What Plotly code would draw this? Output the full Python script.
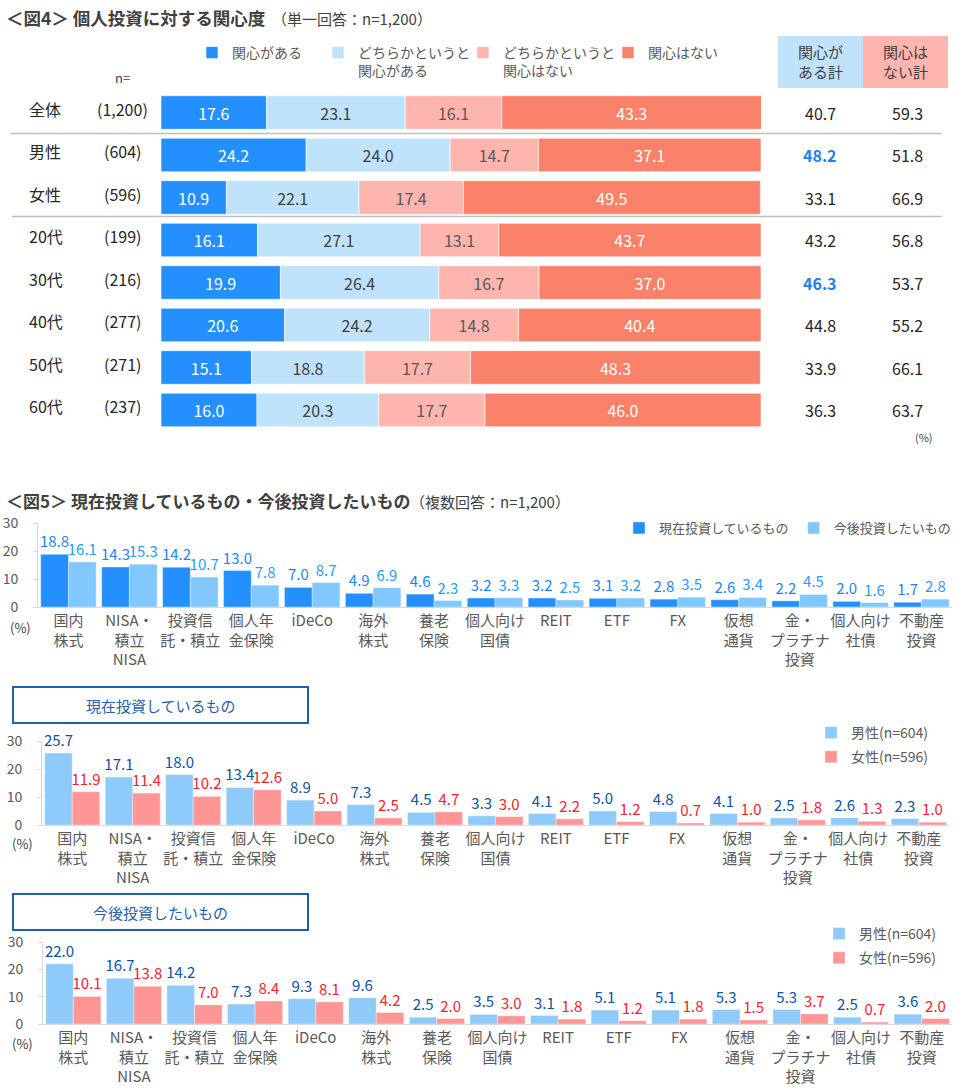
import plotly.graph_objects as go

W, H = 960, 1089
def px(x): return x / W
def py(y): return 1 - y / H

FONT = "Noto Sans CJK JP"

# ---------------- Figure 4 data ----------------
groups = ["全体", "男性", "女性", "20代", "30代", "40代", "50代", "60代"]
n_labels = ["(1,200)", "(604)", "(596)", "(199)", "(216)", "(277)", "(271)", "(237)"]
seg_names = ["関心がある", "どちらかというと<br>関心がある", "どちらかというと<br>関心はない", "関心はない"]
seg1 = [17.6, 24.2, 10.9, 16.1, 19.9, 20.6, 15.1, 16.0]
seg2 = [23.1, 24.0, 22.1, 27.1, 26.4, 24.2, 18.8, 20.3]
seg3 = [16.1, 14.7, 17.4, 13.1, 16.7, 14.8, 17.7, 17.7]
seg4 = [43.3, 37.1, 49.5, 43.7, 37.0, 40.4, 48.3, 46.0]
total_yes = [40.7, 48.2, 33.1, 43.2, 46.3, 44.8, 33.9, 36.3]
total_no = [59.3, 51.8, 66.9, 56.8, 53.7, 55.2, 66.1, 63.7]
highlight_yes = [False, True, False, False, True, False, False, False]

seg_colors = ["#2490FF", "#BEE3FB", "#FDB5AE", "#FA816A"]
seg_text_colors = ["white", "#404040", "#595959", "white"]

# ---------------- Figure 5 data ----------------
cats = ["国内株式", "NISA・積立NISA", "投資信託・積立", "個人年金保険", "iDeCo", "海外株式",
        "養老保険", "個人向け国債", "REIT", "ETF", "FX", "仮想通貨", "金・プラチナ投資",
        "個人向け社債", "不動産投資"]
cat_ticks = ["国内<br>株式", "NISA・<br>積立<br>NISA", "投資信<br>託・積立", "個人年<br>金保険", "iDeCo",
             "海外<br>株式", "養老<br>保険", "個人向け<br>国債", "REIT", "ETF", "FX", "仮想<br>通貨",
             "金・<br>プラチナ<br>投資", "個人向け<br>社債", "不動産<br>投資"]
now_all = [18.8, 14.3, 14.2, 13.0, 7.0, 4.9, 4.6, 3.2, 3.2, 3.1, 2.8, 2.6, 2.2, 2.0, 1.7]
future_all = [16.1, 15.3, 10.7, 7.8, 8.7, 6.9, 2.3, 3.3, 2.5, 3.2, 3.5, 3.4, 4.5, 1.6, 2.8]
now_male = [25.7, 17.1, 18.0, 13.4, 8.9, 7.3, 4.5, 3.3, 4.1, 5.0, 4.8, 4.1, 2.5, 2.6, 2.3]
now_female = [11.9, 11.4, 10.2, 12.6, 5.0, 2.5, 4.7, 3.0, 2.2, 1.2, 0.7, 1.0, 1.8, 1.3, 1.0]
fut_male = [22.0, 16.7, 14.2, 7.3, 9.3, 9.6, 2.5, 3.5, 3.1, 5.1, 5.1, 5.3, 5.3, 2.5, 3.6]
fut_female = [10.1, 13.8, 7.0, 8.4, 8.1, 4.2, 2.0, 3.0, 1.8, 1.2, 1.8, 1.5, 3.7, 0.7, 2.0]

fig = go.Figure()

# ---- Figure 4 stacked horizontal bars (explicit base) ----
seg_legends = ["legend", "legend5", "legend6", "legend7"]
segs = [seg1, seg2, seg3, seg4]
base = [0.0] * len(groups)
for i, s in enumerate(segs):
    fig.add_trace(go.Bar(
        x=s, y=groups, base=list(base), orientation="h", name=seg_names[i],
        marker=dict(color=seg_colors[i], line=dict(color="rgba(255,255,255,0.6)", width=1)),
        text=[f"{v:.1f}" for v in s], textposition="inside", insidetextanchor="middle",
        textangle=0, constraintext="none",
        textfont=dict(color=seg_text_colors[i], size=16, family=FONT),
        width=0.79, offset=-0.395, xaxis="x", yaxis="y", legend=seg_legends[i],
        hoverinfo="skip"))
    base = [b + v for b, v in zip(base, s)]

# ---- Figure 5 charts ----
def add_pair(a, b, names, colors, tcolors, ax, leg):
    for k, (vals, nm, c, tc) in enumerate(zip([a, b], names, colors, tcolors)):
        fig.add_trace(go.Bar(
            x=cats, y=vals, name=nm, legendgroup=f"{leg}_{k}",
            marker=dict(color=c, line=dict(color="rgba(255,255,255,0.35)", width=1)),
            text=[f"{v:.1f}" for v in vals], textposition="outside", constraintext="none",
            cliponaxis=False, textfont=dict(color=tc, size=15, family=FONT),
            xaxis="x" + ax, yaxis="y" + ax, legend=leg, hoverinfo="skip"))

add_pair(now_all, future_all, ["現在投資しているもの", "今後投資したいもの"],
         ["#2490FF", "#80C8FF"], ["#1E84F0", "#2B9BFA"], "2", "legend2")
add_pair(now_male, now_female, ["男性(n=604)", "女性(n=596)"],
         ["#8FCBFA", "#FF9696"], ["#0B52A8", "#F5222D"], "3", "legend3")
add_pair(fut_male, fut_female, ["男性(n=604)", "女性(n=596)"],
         ["#8FCBFA", "#FF9696"], ["#0B52A8", "#F5222D"], "4", "legend4")

axis_font = dict(family=FONT, size=15, color="#595959")
ytick_font = dict(family=FONT, size=14, color="#595959")

def ydom(top, bottom):
    return [py(bottom), py(top)]

layout = dict(
    width=W, height=H, autosize=False,
    margin=dict(l=0, r=0, t=0, b=0, pad=0, autoexpand=False),
    paper_bgcolor="white", plot_bgcolor="white",
    font=dict(family=FONT, color="#404040"),
    barmode="group", bargap=0.09, bargroupgap=0,
    showlegend=True,
    xaxis=dict(domain=[px(161), px(761)], range=[0, 100], visible=False, fixedrange=True,
               automargin=False),
    yaxis=dict(domain=ydom(91.25, 431.25), type="category", categoryorder="array",
               categoryarray=groups, autorange="reversed", visible=False, automargin=False),
)

def chart_axes(xd, yd):
    xa = dict(domain=xd, type="category", categoryorder="array", categoryarray=cats,
              tickvals=cats, ticktext=cat_ticks, tickfont=axis_font, showline=True,
              linecolor="#D9D9D9", linewidth=1, ticks="", showgrid=False, zeroline=False,
              tickangle=0, automargin=False)
    ya = dict(domain=yd, range=[0, 30], tickvals=[0, 10, 20, 30], tickfont=ytick_font,
              showline=True, linecolor="#D9D9D9", linewidth=1, ticks="outside", ticklen=4,
              tickcolor="#D9D9D9", showgrid=False, zeroline=False, ticklabelstandoff=12,
              automargin=False)
    return xa, ya

xa, ya = chart_axes([px(38), px(952)], ydom(523, 607))
xa["anchor"] = "y2"; ya["anchor"] = "x2"
layout["xaxis2"], layout["yaxis2"] = xa, ya
xa, ya = chart_axes([px(42), px(949)], ydom(741, 825))
xa["anchor"] = "y3"; ya["anchor"] = "x3"
layout["xaxis3"], layout["yaxis3"] = xa, ya
xa, ya = chart_axes([px(43), px(952)], ydom(942, 1024))
xa["anchor"] = "y4"; ya["anchor"] = "x4"
layout["xaxis4"], layout["yaxis4"] = xa, ya

leg_font = dict(family=FONT, size=14, color="#595959")
leg_font13 = dict(family=FONT, size=13, color="#595959")

# Figure 4 legend: one legend per item, placed at the reference positions
for lg, cx in zip(seg_legends, [192, 318, 463, 608]):
    layout[lg] = dict(orientation="h", x=px(cx), y=py(37), xanchor="left", yanchor="top",
                      font=leg_font, itemwidth=30, valign="top",
                      bgcolor="rgba(0,0,0,0)", traceorder="normal")
layout["legend2"] = dict(orientation="h", x=px(619), y=py(513), xanchor="left", yanchor="top",
                         font=leg_font13, itemwidth=30, bgcolor="rgba(0,0,0,0)",
                         traceorder="normal")
layout["legend3"] = dict(orientation="v", x=px(811), y=py(717), xanchor="left", yanchor="top",
                         font=leg_font, itemwidth=30, bgcolor="rgba(0,0,0,0)",
                         traceorder="grouped", tracegroupgap=3)
layout["legend4"] = dict(orientation="v", x=px(819), y=py(918), xanchor="left", yanchor="top",
                         font=leg_font, itemwidth=30, bgcolor="rgba(0,0,0,0)",
                         traceorder="grouped", tracegroupgap=3)

ann = []
shapes = []

def text(x, y, s, size=14, color="#404040", xanchor="left", yanchor="middle", **kw):
    d = dict(x=px(x), y=py(y), xref="paper", yref="paper", text=s, showarrow=False,
             font=dict(family=FONT, size=size, color=color), xanchor=xanchor, yanchor=yanchor)
    d.update(kw)
    ann.append(d)

# Titles
text(4, 18, "<b>＜図4＞ 個人投資に対する関心度</b>", size=17.5, color="#404040")
text(270, 19, "（単一回答：n=1,200）", size=15, color="#404040")
text(4, 500, "<b>＜図5＞ 現在投資しているもの・今後投資したいもの</b>", size=17, color="#404040")
text(408, 501, "（複数回答：n=1,200）", size=15, color="#404040")

# n=
text(113, 77, "n=", size=13, color="#404040")

# Header boxes
shapes.append(dict(type="rect", xref="paper", yref="paper", x0=px(778), x1=px(863),
                   y0=py(88), y1=py(36), fillcolor="#BEE3FB", line=dict(width=0)))
shapes.append(dict(type="rect", xref="paper", yref="paper", x0=px(863), x1=px(948),
                   y0=py(88), y1=py(36), fillcolor="#FDB5AE", line=dict(width=0)))
text(820.5, 62, "関心が<br>ある計", size=15, color="#404040", xanchor="center")
text(905.5, 62, "関心は<br>ない計", size=15, color="#404040", xanchor="center")

# Row labels, n, totals
for g, n, ty, tn, hl in zip(groups, n_labels, total_yes, total_no, highlight_yes):
    ann.append(dict(x=px(27), y=g, xref="paper", yref="y", text=g, showarrow=False,
                    xanchor="left", yanchor="middle", yshift=4,
                    font=dict(family=FONT, size=16, color="#262626")))
    ann.append(dict(x=px(122), y=g, xref="paper", yref="y", text=n, showarrow=False,
                    xanchor="center", yanchor="middle", yshift=4,
                    font=dict(family=FONT, size=16, color="#262626")))
    ann.append(dict(x=px(820), y=g, xref="paper", yref="y",
                    text=(f"<b>{ty:.1f}</b>" if hl else f"{ty:.1f}"), showarrow=False,
                    xanchor="center", yanchor="middle",
                    font=dict(family=FONT, size=16, color=("#1E7FF0" if hl else "#262626"))))
    ann.append(dict(x=px(907), y=g, xref="paper", yref="y", text=f"{tn:.1f}", showarrow=False,
                    xanchor="center", yanchor="middle",
                    font=dict(family=FONT, size=16, color="#262626")))

text(924, 437, "(%)", size=11, color="#404040", xanchor="center")

# Separator lines
shapes.append(dict(type="line", xref="paper", yref="paper", x0=px(10), x1=px(942),
                   y0=py(133.5), y1=py(133.5), line=dict(color="#BFBFBF", width=1.5)))
shapes.append(dict(type="line", xref="paper", yref="paper", x0=px(12), x1=px(942),
                   y0=py(216.5), y1=py(216.5), line=dict(color="#BFBFBF", width=1.5)))

# (%) labels for charts
text(20, 627, "(%)", size=13, color="#404040", xanchor="center")
text(22, 843, "(%)", size=13, color="#404040", xanchor="center")
text(22, 1043, "(%)", size=13, color="#404040", xanchor="center")

# Box titles
for (y0, y1, s) in [(687, 723, "現在投資しているもの"), (894, 930, "今後投資したいもの")]:
    shapes.append(dict(type="rect", xref="paper", yref="paper", x0=px(13), x1=px(308),
                       y0=py(y1), y1=py(y0), fillcolor="white",
                       line=dict(color="#1F5FAD", width=2)))
    text(160.5, (y0 + y1) / 2, s, size=15, color="#1F5FAD", xanchor="center")

layout["annotations"] = ann
layout["shapes"] = shapes
fig.update_layout(**layout)

fig.write_html("out.html", config={"displayModeBar": False},
               post_script="document.body.style.margin='0px';")
